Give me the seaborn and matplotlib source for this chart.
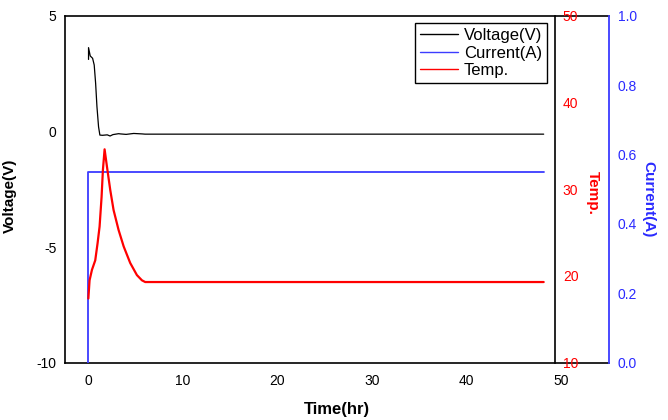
import pandas as pd
import matplotlib
matplotlib.use("Agg")
import matplotlib.pyplot as plt
import seaborn as sns

# values
volt_t = [0.02, 0.02, 0.2, 0.45, 0.62, 0.77, 0.91, 1.08, 1.22, 1.5, 2.0, 2.3, 2.6, 3.2, 3.4, 4.0, 4.8, 5.7, 6.0, 48.2]
volt_v = [3.11, 3.62, 3.26, 3.16, 2.87, 2.08, 1.07, 0.20, -0.16, -0.17, -0.15, -0.2, -0.14, -0.10, -0.11, -0.13, -0.09, -0.11, -0.12, -0.12]

curr_t = [0.0, 0.0, 48.2]
curr_a = [0.0, 0.55, 0.55]

temp_t = [0.0, 0.13, 0.38, 0.73, 0.98, 1.19, 1.40, 1.54, 1.72, 1.97, 2.32, 2.67, 3.2, 3.74, 4.43, 5.14, 5.67, 6.02, 48.2]
temp_c = [17.4, 19.5, 20.7, 21.8, 23.8, 25.7, 29.1, 32.2, 34.6, 32.6, 29.9, 27.6, 25.3, 23.4, 21.5, 20.1, 19.5, 19.3, 19.3]

x_ticks = [0, 10, 20, 30, 40, 50]
v_ticks = [-10, -5, 0, 5]
t_ticks = [10, 20, 30, 40, 50]
c_ticks = [0.0, 0.2, 0.4, 0.6, 0.8, 1.0]

sns.set_style("white")
plt.rcParams["font.family"] = ["Liberation Sans", "DejaVu Sans"]
plt.rcParams["axes.unicode_minus"] = False
plt.rcParams["text.color"] = "black"
plt.rcParams["axes.labelcolor"] = "black"
plt.rcParams["xtick.color"] = "black"
plt.rcParams["ytick.color"] = "black"

BLUE = "#3c3cff"
BLUE_TXT = "#2a2aff"

fig = plt.figure(figsize=(6.68, 4.2), dpi=100)
ax = fig.add_axes([0.0969, 0.1364, 0.8153, 0.8262])
ax_c = ax.twinx()
ax_t = ax.twinx()

df_v = pd.DataFrame({"t": volt_t, "v": volt_v})
df_c = pd.DataFrame({"t": curr_t, "a": curr_a})
df_t = pd.DataFrame({"t": temp_t, "c": temp_c})

sns.lineplot(data=df_v, x="t", y="v", ax=ax, color="black", lw=0.9,
             sort=False, estimator=None, legend=False)
sns.lineplot(data=df_c, x="t", y="a", ax=ax_c, color=BLUE, lw=1.3,
             sort=False, estimator=None, legend=False)
sns.lineplot(data=df_t, x="t", y="c", ax=ax_t, color="red", lw=1.6,
             sort=False, estimator=None, legend=False)

ax.set_xlim(-2.5, 55.15)
ax.set_ylim(-10, 5)
ax_c.set_ylim(0, 1.0)
ax_t.set_ylim(10, 50)

ax.set_xticks(x_ticks)
ax.set_yticks(v_ticks)
ax_c.set_yticks(c_ticks)
ax_c.set_yticklabels([f"{c:.1f}" for c in c_ticks])
ax_t.set_yticks(t_ticks)

ax.tick_params(axis="both", length=0, labelsize=10, pad=6, labelcolor="black")
ax.tick_params(axis="x", pad=8)
ax_c.tick_params(axis="y", length=0, labelsize=10, pad=6, labelcolor=BLUE_TXT)
ax_t.tick_params(axis="y", length=0, labelsize=10, pad=6, labelcolor="red")

for s in ["left", "bottom", "top"]:
    ax.spines[s].set_color("black")
    ax.spines[s].set_linewidth(1.2)
ax.spines["right"].set_visible(False)
for s in ["left", "bottom", "top"]:
    ax_c.spines[s].set_visible(False)
    ax_t.spines[s].set_visible(False)
ax_c.spines["right"].set_color(BLUE)
ax_c.spines["right"].set_linewidth(1.3)
ax_t.spines["right"].set_position(("axes", 0.8994))
ax_t.spines["right"].set_color("black")
ax_t.spines["right"].set_linewidth(1.2)

ax.set_xlabel("Time(hr)", fontsize=12, fontweight="bold", labelpad=10)
ax.set_ylabel("Voltage(V)", fontsize=11, fontweight="bold")
ax.yaxis.set_label_coords(-0.088, 0.48)
ax_t.set_ylabel("Temp.", fontsize=11, fontweight="bold", color="red", rotation=270, va="center")
ax_t.yaxis.set_label_coords(0.970, 0.49)
ax_c.set_ylabel("Current(A)", fontsize=11, fontweight="bold", color=BLUE_TXT, rotation=270, va="center")
ax_c.yaxis.set_label_coords(1.071, 0.47)

leg = ax_t.legend(handles=[plt.Line2D([], [], color="black", lw=1),
                            plt.Line2D([], [], color=BLUE, lw=1),
                            plt.Line2D([], [], color="red", lw=1)],
                  labels=["Voltage(V)", "Current(A)", "Temp."],
                  loc="upper right", bbox_to_anchor=(0.8193, 0.9445),
                  bbox_transform=fig.transFigure, borderaxespad=0,
                  fontsize=12, frameon=True, fancybox=False, framealpha=1,
                  edgecolor="black", labelspacing=0.15, handlelength=2.3,
                  handletextpad=0.35, borderpad=0.3)
leg.get_frame().set_linewidth(1.0)

fig.savefig("out.png", dpi=100)
